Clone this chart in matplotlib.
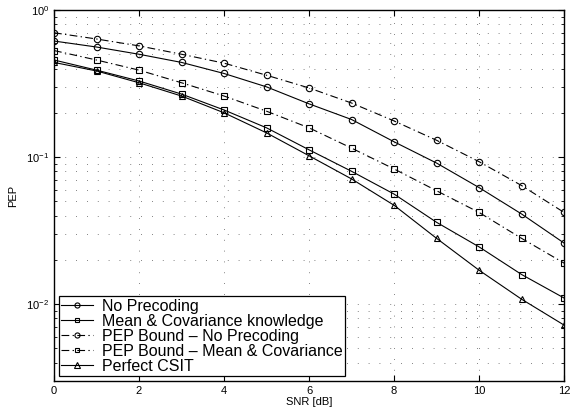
import numpy as np
import matplotlib
matplotlib.use("Agg")
import matplotlib.pyplot as plt
from matplotlib.ticker import LogLocator, NullFormatter

plt.rcParams['font.family'] = ['Liberation Sans', 'DejaVu Sans']
plt.rcParams['mathtext.fontset'] = 'custom'
plt.rcParams['mathtext.rm'] = 'Liberation Sans'

# data
snr = [0, 1, 2, 3, 4, 5, 6, 7, 8, 9, 10, 11, 12]
no_prec = [0.615, 0.56, 0.50, 0.44, 0.37, 0.30, 0.23, 0.18, 0.127, 0.091, 0.062, 0.041, 0.026]
mean_cov = [0.457, 0.39, 0.329, 0.268, 0.209, 0.158, 0.112, 0.080, 0.056, 0.036, 0.0245, 0.0159, 0.011]
bound_no_prec = [0.70, 0.635, 0.57, 0.50, 0.435, 0.36, 0.295, 0.233, 0.176, 0.13, 0.093, 0.064, 0.042]
bound_mean_cov = [0.53, 0.457, 0.39, 0.32, 0.26, 0.205, 0.158, 0.115, 0.083, 0.059, 0.042, 0.028, 0.019]
perfect_csit = [0.44, 0.385, 0.32, 0.26, 0.20, 0.146, 0.102, 0.071, 0.047, 0.028, 0.017, 0.0108, 0.0072]

labels = ["No Precoding", "Mean & Covariance knowledge", "PEP Bound \u2013 No Precoding",
          "PEP Bound \u2013 Mean & Covariance", "Perfect CSIT"]

fig = plt.figure(figsize=(5.71, 4.16), dpi=100)
ax = fig.add_axes([0.0946, 0.084, 0.8934, 0.892])

dashdot = (0, (7, 3, 1.2, 3))
style = dict(color='black', lw=0.8, mfc='none', mec='black', mew=0.8, ms=4.6)
ax.semilogy(snr, no_prec, '-', marker='o', label=labels[0], **style)
ax.semilogy(snr, mean_cov, '-', marker='s', label=labels[1], **dict(style, ms=4))
ax.semilogy(snr, bound_no_prec, linestyle=dashdot, marker='o', label=labels[2], **style)
ax.semilogy(snr, bound_mean_cov, linestyle=dashdot, marker='s', label=labels[3], **dict(style, ms=4))
ax.semilogy(snr, perfect_csit, '-', marker='^', label=labels[4], **dict(style, ms=5))

ax.set_xlim(0, 12)
ax.set_ylim(3e-3, 1)
ax.set_xticks(range(0, 13, 2))
ax.yaxis.set_major_locator(LogLocator(base=10, numticks=10))
ax.yaxis.set_minor_locator(LogLocator(base=10, subs=np.arange(2, 10), numticks=10))
ax.yaxis.set_minor_formatter(NullFormatter())

dots = (0, (1, 12))
ax.grid(True, which='major', linestyle=dots, color='0.35', lw=0.6)
ax.grid(True, which='minor', axis='y', linestyle=dots, color='0.35', lw=0.6)

ax.tick_params(which='both', direction='in', top=True, right=True, labelsize=8)
ax.tick_params(which='major', length=4)
ax.tick_params(which='minor', length=2)
for s in ax.spines.values():
    s.set_linewidth(1.0)

ax.set_xlabel("SNR [dB]", fontsize=8, labelpad=1)
ax.set_ylabel("PEP", fontsize=8, labelpad=6)

leg = ax.legend(loc='lower left', fontsize=11.5, frameon=True, fancybox=False,
                edgecolor='black', framealpha=1, borderaxespad=0.3,
                handlelength=2.0, handletextpad=0.55, labelspacing=0.0, borderpad=0.15,
                markerscale=0.8)
leg.get_frame().set_linewidth(0.9)

fig.savefig("out.png", dpi=100)
